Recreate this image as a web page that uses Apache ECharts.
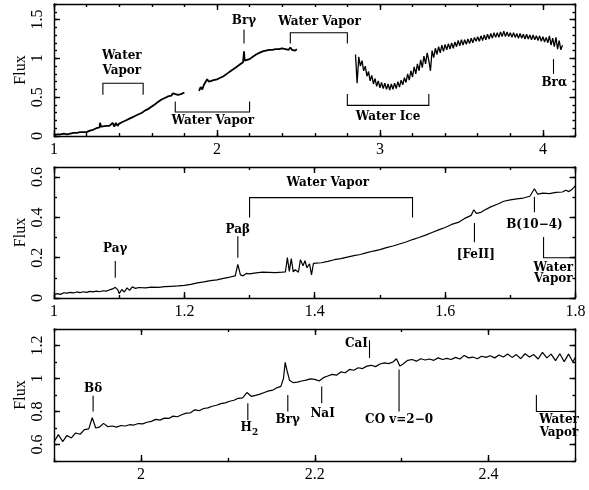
<!DOCTYPE html>
<html>
<head>
<meta charset="utf-8">
<script src="https://cdn.jsdelivr.net/npm/echarts@6/dist/echarts.min.js"></script>
<style>html,body{margin:0;padding:0;background:#fff}#c{width:589px;height:490px}</style>
</head>
<body>
<div id="c"></div>
<script>
// ---------------- DATA ----------------
// Panel 1 (1-4.2 micron overview), three segments
const p1xA = [1.00,1.02,1.04,1.06,1.08,1.10,1.12,1.14,1.16,1.18,1.20,1.22,1.24,1.26,1.28,1.282,1.29,1.30,1.32,1.34,1.36,1.37,1.38,1.39,1.40,1.42,1.44,1.46,1.48,1.50,1.52,1.54,1.56,1.58,1.60,1.62,1.64,1.66,1.68,1.70,1.72,1.73,1.74,1.76,1.78,1.80];
const p1yA = [0.01,0.02,0.02,0.03,0.02,0.03,0.04,0.04,0.05,0.05,0.05,0.07,0.08,0.10,0.11,0.17,0.12,0.12,0.13,0.13,0.17,0.12,0.17,0.13,0.16,0.18,0.20,0.22,0.24,0.26,0.28,0.30,0.33,0.35,0.38,0.41,0.44,0.47,0.49,0.51,0.52,0.55,0.53,0.53,0.54,0.56];
const p1xB = [1.89,1.90,1.91,1.92,1.93,1.94,1.95,1.96,1.98,2.00,2.02,2.04,2.06,2.08,2.10,2.12,2.14,2.16,2.166,2.17,2.18,2.20,2.22,2.24,2.26,2.28,2.30,2.32,2.34,2.36,2.38,2.40,2.42,2.43,2.44,2.45,2.46,2.47,2.48,2.49];
const p1yB = [0.58,0.63,0.60,0.66,0.68,0.73,0.70,0.71,0.72,0.73,0.75,0.77,0.80,0.83,0.86,0.89,0.92,0.95,1.09,0.97,0.98,0.99,1.02,1.05,1.07,1.09,1.10,1.11,1.11,1.12,1.12,1.13,1.12,1.14,1.11,1.14,1.11,1.13,1.10,1.12];
const p1xC = [2.85,2.86,2.87,2.88,2.89,2.90,2.91,2.92,2.93,2.94,2.95,2.96,2.97,2.98,2.99,3.00,3.01,3.02,3.03,3.04,3.05,3.06,3.07,3.08,3.09,3.10,3.11,3.12,3.13,3.14,3.15,3.16,3.17,3.18,3.19,3.20,3.21,3.22,3.23,3.24,3.25,3.26,3.27,3.28,3.29,3.30,3.31,3.32,3.33,3.34,3.35,3.36,3.37,3.38,3.39,3.40,3.41,3.42,3.43,3.44,3.45,3.46,3.47,3.48,3.49,3.50,3.51,3.52,3.53,3.54,3.55,3.56,3.57,3.58,3.59,3.60,3.61,3.62,3.63,3.64,3.65,3.66,3.67,3.68,3.69,3.70,3.71,3.72,3.73,3.74,3.75,3.76,3.77,3.78,3.79,3.80,3.81,3.82,3.83,3.84,3.85,3.86,3.87,3.88,3.89,3.90,3.91,3.92,3.93,3.94,3.95,3.96,3.97,3.98,3.99,4.00,4.01,4.02,4.03,4.04,4.05,4.06,4.07,4.08,4.09,4.10,4.11,4.12];
const p1yC = [1.05,0.68,1.02,0.90,0.97,0.84,0.90,0.77,0.83,0.71,0.78,0.67,0.74,0.64,0.71,0.62,0.69,0.61,0.68,0.60,0.67,0.59,0.67,0.60,0.68,0.61,0.70,0.63,0.72,0.66,0.75,0.69,0.80,0.72,0.84,0.76,0.89,0.80,0.93,0.84,0.98,0.88,1.03,0.93,1.07,0.97,0.84,1.10,1.01,1.13,1.05,1.15,1.07,1.17,1.09,1.18,1.11,1.19,1.12,1.20,1.13,1.21,1.15,1.23,1.16,1.24,1.17,1.24,1.18,1.25,1.19,1.26,1.20,1.27,1.22,1.28,1.22,1.29,1.23,1.30,1.24,1.31,1.25,1.32,1.26,1.33,1.27,1.33,1.27,1.34,1.28,1.35,1.28,1.34,1.28,1.33,1.27,1.33,1.27,1.32,1.26,1.32,1.26,1.31,1.25,1.31,1.25,1.30,1.24,1.30,1.24,1.29,1.23,1.29,1.22,1.28,1.21,1.27,1.20,1.29,1.17,1.26,1.15,1.27,1.12,1.23,1.11,1.17];

// Panel 2 (J/H band)
const p2x = [1.000,1.005,1.010,1.015,1.020,1.025,1.030,1.035,1.040,1.045,1.050,1.055,1.060,1.065,1.070,1.075,1.080,1.085,1.090,1.094,1.098,1.100,1.104,1.108,1.112,1.116,1.120,1.125,1.130,1.140,1.150,1.160,1.170,1.180,1.190,1.200,1.210,1.220,1.230,1.240,1.250,1.260,1.270,1.278,1.282,1.286,1.290,1.295,1.300,1.310,1.320,1.330,1.340,1.350,1.355,1.358,1.361,1.364,1.367,1.370,1.375,1.378,1.382,1.385,1.388,1.392,1.395,1.398,1.400,1.410,1.420,1.430,1.440,1.450,1.460,1.470,1.480,1.490,1.500,1.510,1.520,1.530,1.540,1.550,1.560,1.570,1.580,1.590,1.600,1.610,1.620,1.630,1.640,1.644,1.648,1.655,1.660,1.670,1.680,1.690,1.700,1.710,1.720,1.730,1.737,1.742,1.750,1.760,1.770,1.780,1.785,1.790,1.795,1.800];
const p2y = [0.016,0.022,0.018,0.026,0.024,0.028,0.025,0.030,0.027,0.031,0.028,0.033,0.030,0.034,0.031,0.036,0.034,0.040,0.045,0.053,0.040,0.022,0.042,0.030,0.050,0.038,0.055,0.048,0.052,0.050,0.054,0.053,0.056,0.058,0.060,0.063,0.068,0.075,0.080,0.086,0.090,0.097,0.104,0.110,0.167,0.115,0.110,0.122,0.120,0.125,0.128,0.127,0.126,0.128,0.130,0.200,0.132,0.195,0.130,0.140,0.128,0.190,0.160,0.185,0.150,0.170,0.115,0.172,0.165,0.175,0.182,0.190,0.195,0.203,0.210,0.216,0.225,0.233,0.240,0.250,0.258,0.268,0.278,0.290,0.300,0.312,0.325,0.338,0.350,0.365,0.375,0.395,0.410,0.438,0.420,0.425,0.435,0.452,0.465,0.480,0.487,0.492,0.496,0.505,0.542,0.515,0.520,0.518,0.524,0.526,0.535,0.528,0.540,0.558];

// Panel 3 (K band)
const p3x = [1.900,1.905,1.910,1.915,1.920,1.925,1.930,1.935,1.940,1.944,1.948,1.952,1.957,1.962,1.967,1.972,1.977,1.982,1.987,1.992,1.997,2.002,2.007,2.012,2.017,2.022,2.027,2.032,2.037,2.042,2.047,2.052,2.057,2.062,2.067,2.072,2.077,2.082,2.087,2.092,2.097,2.102,2.107,2.112,2.117,2.122,2.127,2.132,2.137,2.142,2.147,2.152,2.157,2.161,2.164,2.166,2.168,2.171,2.175,2.180,2.185,2.190,2.195,2.200,2.205,2.210,2.215,2.220,2.225,2.230,2.235,2.240,2.245,2.250,2.255,2.260,2.265,2.270,2.275,2.280,2.285,2.290,2.294,2.298,2.302,2.307,2.312,2.317,2.322,2.327,2.332,2.337,2.342,2.347,2.352,2.357,2.362,2.367,2.372,2.377,2.382,2.387,2.392,2.397,2.402,2.407,2.412,2.417,2.422,2.427,2.432,2.437,2.442,2.447,2.452,2.457,2.462,2.467,2.472,2.477,2.482,2.487,2.492,2.497,2.500];
const p3y = [0.615,0.660,0.618,0.655,0.640,0.670,0.662,0.690,0.695,0.762,0.700,0.705,0.728,0.708,0.712,0.705,0.715,0.712,0.720,0.718,0.727,0.725,0.735,0.740,0.752,0.748,0.760,0.758,0.772,0.768,0.780,0.790,0.792,0.810,0.805,0.818,0.822,0.832,0.838,0.848,0.852,0.862,0.868,0.880,0.882,0.915,0.892,0.898,0.905,0.915,0.925,0.930,0.945,0.952,1.000,1.098,1.050,0.990,0.975,0.978,0.985,0.990,0.998,0.995,0.985,1.005,1.015,1.025,1.020,1.040,1.035,1.055,1.050,1.065,1.060,1.075,1.080,1.072,1.088,1.095,1.090,1.100,1.120,1.075,1.090,1.110,1.115,1.105,1.120,1.112,1.118,1.110,1.125,1.115,1.122,1.115,1.128,1.118,1.140,1.125,1.130,1.120,1.135,1.128,1.138,1.125,1.142,1.130,1.148,1.128,1.145,1.120,1.150,1.130,1.145,1.118,1.158,1.125,1.148,1.108,1.150,1.102,1.148,1.100,1.130];

// Axis ranges and tick values
const p1XRange = [1, 4.2], p1YRange = [0, 1.7];
const p2XRange = [1, 1.8], p2YRange = [0, 0.65];
const p3XRange = [1.9, 2.5], p3YRange = [0.5, 1.3];
const p1XTicks = [1, 2, 3, 4], p1YTicks = [0, 0.5, 1, 1.5];
const p2XTicks = [1, 1.2, 1.4, 1.6, 1.8], p2YTicks = [0, 0.2, 0.4, 0.6];
const p3XTicks = [2, 2.2, 2.4], p3YTicks = [0.6, 0.8, 1, 1.2];
const p1Minor = [0.2, 0.1], p2Minor = [0.1, 0.1], p3Minor = [0.1, 0.1];

// Annotations (data coordinates): polylines and labels
const p1Lines = [
  [[1.30,0.53],[1.30,0.68],[1.547,0.68],[1.547,0.53]],
  [[1.744,0.445],[1.744,0.31],[2.20,0.31],[2.20,0.445]],
  [[2.166,1.37],[2.166,1.19]],
  [[2.45,1.19],[2.45,1.33],[2.80,1.33],[2.80,1.19]],
  [[2.80,0.54],[2.80,0.395],[3.30,0.395],[3.30,0.54]],
  [[4.065,0.99],[4.065,0.80]]
];
const p1Labels = [
  ['Water',1.416,1.03],['Vapor',1.416,0.84],['Water Vapor',1.975,0.195],
  ['Brγ',2.166,1.48],['Water Vapor',2.63,1.47],['Water Ice',3.05,0.245],['Brα',4.07,0.69]
];
const p2Lines = [
  [[1.094,0.184],[1.094,0.10]],
  [[1.282,0.307],[1.282,0.20]],
  [[1.30,0.40],[1.30,0.498],[1.55,0.498],[1.55,0.40]],
  [[1.645,0.372],[1.645,0.277]],
  [[1.737,0.503],[1.737,0.425]],
  [[1.751,0.303],[1.751,0.20],[1.80,0.20]]
];
const p2Labels = [
  ['Paγ',1.094,0.246],['Paβ',1.282,0.34],['Water Vapor',1.42,0.569],
  ['[FeII]',1.647,0.216],['B(10−4)',1.737,0.364],['Water',1.766,0.147],['Vapor',1.766,0.093]
];
const p3Lines = [
  [[1.945,0.895],[1.945,0.80]],
  [[2.123,0.85],[2.123,0.749]],
  [[2.169,0.90],[2.169,0.80]],
  [[2.208,0.952],[2.208,0.85]],
  [[2.263,1.232],[2.263,1.125]],
  [[2.297,1.054],[2.297,0.80]],
  [[2.455,0.90],[2.455,0.80],[2.50,0.80]]
];
const p3Labels = [
  ['Bδ',1.945,0.94],['H',2.121,0.70,'2'],['Brγ',2.169,0.75],['NaI',2.209,0.783],
  ['CaI',2.248,1.21],['CO v=2−0',2.297,0.75],['Water',2.481,0.75],['Vapor',2.481,0.668]
];

// ---------------- CHART ----------------
const FONT_TICK = 'Liberation Serif';
const FONT_ANN = 'DejaVu Serif';
const AX = {color:'#000', width:1.4};
const fmt = v => String(+(+v).toFixed(2));

function axesFor(g, dim, range, majors, minorStep, labels) {
  const isX = dim === 'x';
  const pos = isX ? ['bottom','top'] : ['left','right'];
  const out = [];
  pos.forEach((p, k) => {
    const main = {
      type:'value', gridIndex:g, min:range[0], max:range[1], position:p,
      axisLine:{show:true, onZero:false, lineStyle:AX},
      axisTick:{show:true, inside:true, length:6, customValues:majors, lineStyle:AX},
      axisLabel:{show: k===0 && labels, customValues:majors, formatter:fmt, color:'#000',
        fontFamily:FONT_TICK, fontSize:16, margin: isX ? 6 : 8, rotate: isX ? 0 : 90},
      splitLine:{show:false}
    };
    if (!isX && k===0) {
      main.name = 'Flux'; main.nameLocation = 'middle'; main.nameGap = 25; main.nameRotate = 90;
      main.nameMoveOverlap = false;
      main.nameTextStyle = {fontFamily:FONT_TICK, fontSize:16, color:'#000'};
    }
    out.push(main);
    out.push({
      type:'value', gridIndex:g, min:range[0], max:range[1], interval:minorStep, position:p,
      axisLine:{show:false, onZero:false},
      axisTick:{show:true, inside:true, length:3, lineStyle:AX},
      axisLabel:{show:false}, splitLine:{show:false}
    });
  });
  return out;
}

function lineSeries(g, xs, ys, w) {
  return {type:'line', xAxisIndex:4*g, yAxisIndex:4*g, data: xs.map((x,i)=>[x, ys[i]]),
    showSymbol:false, symbol:'none', lineStyle:{color:'#000', width:w}, animation:false, z:3};
}

function annoSeries(g, lines, labels, anchor) {
  return {
    type:'custom', xAxisIndex:4*g, yAxisIndex:4*g, data:[anchor], silent:true, animation:false, z:6,
    renderItem:(params, api) => {
      const children = [];
      lines.forEach(pts => children.push({type:'polyline',
        shape:{points: pts.map(p => api.coord(p))},
        style:{stroke:'#000', lineWidth:1.1, fill:'none'}}));
      labels.forEach(t => {
        const c = api.coord([t[1], t[2]]);
        children.push({type:'text', x:c[0], y:c[1], style:{text:t[0], fill:'#000',
          font:'bold 12px "'+FONT_ANN+'"', align:'center', verticalAlign:'middle'}});
        if (t[3]) children.push({type:'text', x:c[0]+6, y:c[1]+5, style:{text:t[3], fill:'#000',
          font:'bold 9px "'+FONT_ANN+'"', align:'left', verticalAlign:'middle'}});
      });
      return {type:'group', children};
    }
  };
}

const gridBase = {containLabel:false, outerBoundsMode:'none'};
const grids = [
  Object.assign({left:54, right:13.5, top:4, height:132}, gridBase),
  Object.assign({left:54, right:13.5, top:167, height:131}, gridBase),
  Object.assign({left:54, right:13.5, top:329, height:132}, gridBase)
];
const panels = [
  {xr:p1XRange, yr:p1YRange, xt:p1XTicks, yt:p1YTicks, mn:p1Minor},
  {xr:p2XRange, yr:p2YRange, xt:p2XTicks, yt:p2YTicks, mn:p2Minor},
  {xr:p3XRange, yr:p3YRange, xt:p3XTicks, yt:p3YTicks, mn:p3Minor}
];
const xAxis = [], yAxis = [];
panels.forEach((p, g) => {
  xAxis.push(...axesFor(g, 'x', p.xr, p.xt, p.mn[0], true));
  yAxis.push(...axesFor(g, 'y', p.yr, p.yt, p.mn[1], true));
});

const series = [
  lineSeries(0, p1xA, p1yA, 1.8), lineSeries(0, p1xB, p1yB, 1.8), lineSeries(0, p1xC, p1yC, 1.3),
  lineSeries(1, p2x, p2y, 1.2), lineSeries(2, p3x, p3y, 1.2),
  annoSeries(0, p1Lines, p1Labels, [p1XRange[0], p1YRange[0]]),
  annoSeries(1, p2Lines, p2Labels, [p2XRange[0], p2YRange[0]]),
  annoSeries(2, p3Lines, p3Labels, [p3XRange[0], p3YRange[0]])
];

const chart = echarts.init(document.getElementById('c'), null, {renderer:'canvas'});
chart.setOption({backgroundColor:'#fff', animation:false, grid:grids, xAxis, yAxis, series});
</script>
</body>
</html>
